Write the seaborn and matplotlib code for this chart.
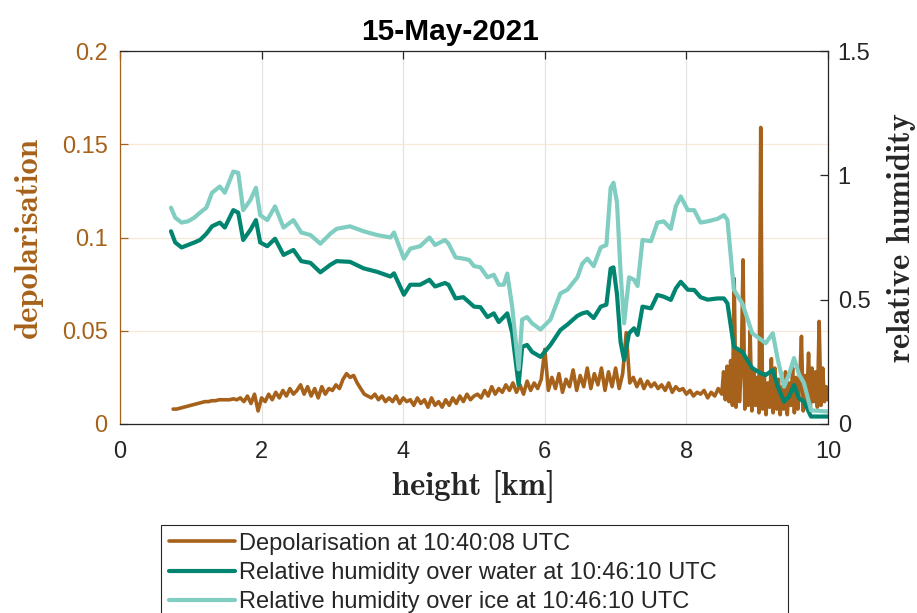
import numpy as np
import pandas as pd
import matplotlib
matplotlib.use("Agg")
import matplotlib.pyplot as plt
import seaborn as sns

# ---------------- data ----------------
# depolarisation: 0.05 km steps up to 8.45 km, then 0.025 km steps up to 10 km
depol_height = np.concatenate([
    np.round(np.arange(0.75, 8.4501, 0.05), 3),
    np.round(np.arange(8.5, 10.0001, 0.025), 3),
])
depol = [
    0.008, 0.008, 0.0085, 0.009, 0.0095, 0.010,
    0.0105, 0.011, 0.0115, 0.012, 0.012, 0.0125, 0.0125, 0.013, 0.013, 0.013,
    0.013, 0.0135, 0.013, 0.014, 0.012, 0.015, 0.011, 0.016, 0.007, 0.014,
    0.012, 0.016, 0.013, 0.017, 0.014, 0.018, 0.015, 0.019, 0.016, 0.018,
    0.021, 0.016, 0.020, 0.015, 0.019, 0.014, 0.020, 0.016, 0.019, 0.018,
    0.021, 0.019, 0.024, 0.027, 0.025, 0.026, 0.022, 0.019, 0.016, 0.015,
    0.014, 0.016, 0.013, 0.015, 0.012, 0.014, 0.012, 0.015, 0.011, 0.014,
    0.012, 0.013, 0.010, 0.014, 0.011, 0.013, 0.009, 0.014, 0.010, 0.012,
    0.009, 0.013, 0.010, 0.014, 0.011, 0.015, 0.012, 0.016, 0.013, 0.015,
    0.016, 0.014, 0.018, 0.015, 0.020, 0.016, 0.019, 0.017, 0.021, 0.018,
    0.022, 0.017, 0.021, 0.016, 0.023, 0.018, 0.022, 0.019, 0.024, 0.040,
    0.018, 0.025, 0.019, 0.027, 0.017, 0.024, 0.020, 0.029, 0.018, 0.026,
    0.020, 0.030, 0.019, 0.027, 0.021, 0.030, 0.018, 0.028, 0.020, 0.030,
    0.019, 0.027, 0.049, 0.022, 0.025, 0.020, 0.024, 0.019, 0.023, 0.020,
    0.022, 0.019, 0.021, 0.018, 0.022, 0.017, 0.020, 0.018, 0.019, 0.016,
    0.018, 0.015, 0.017, 0.016, 0.018, 0.014, 0.017, 0.015, 0.019,
    # 8.5 - 10 km (0.025 km steps)
    0.016, 0.028, 0.013, 0.031, 0.012, 0.034, 0.010, 0.078, 0.009, 0.040,
    0.012, 0.030, 0.088, 0.008, 0.035, 0.010, 0.050, 0.007, 0.028, 0.010,
    0.025, 0.006, 0.159, 0.008, 0.027, 0.005, 0.022, 0.009, 0.035, 0.006,
    0.030, 0.008, 0.024, 0.005, 0.020, 0.008, 0.028, 0.005, 0.022, 0.010,
    0.030, 0.006, 0.025, 0.008, 0.022, 0.047, 0.007, 0.026, 0.010, 0.038,
    0.008, 0.030, 0.012, 0.028, 0.009, 0.055, 0.010, 0.030, 0.012, 0.020,
    0.013,
]

rh_height = [
    0.72, 0.78, 0.87, 0.96, 1.05, 1.13, 1.22, 1.30, 1.41, 1.48, 1.60, 1.67, 1.74,
    1.84, 1.92, 1.98, 2.08, 2.19, 2.31, 2.45, 2.56, 2.69, 2.83, 2.97, 3.06, 3.25,
    3.44, 3.63, 3.82, 3.87, 4.01, 4.10, 4.24, 4.37, 4.45, 4.59, 4.64, 4.74, 4.85,
    4.93, 5.00, 5.09, 5.19, 5.28, 5.35, 5.42, 5.47, 5.54, 5.63, 5.68, 5.75, 5.82,
    5.94, 6.08, 6.22, 6.32, 6.46, 6.53, 6.60, 6.69, 6.79, 6.87, 6.93, 6.97, 7.02,
    7.07, 7.12, 7.19, 7.26, 7.31, 7.38, 7.50, 7.59, 7.68, 7.78, 7.85, 7.92, 8.02,
    8.11, 8.20, 8.30, 8.44, 8.53, 8.58, 8.67, 8.79, 8.93, 9.05, 9.12, 9.22, 9.29,
    9.38, 9.45, 9.52, 9.59, 9.66, 9.76, 10.0,
]
rh_ice = [
    0.87, 0.83, 0.81, 0.815, 0.83, 0.85, 0.87, 0.93, 0.955, 0.93, 1.015, 1.01, 0.86,
    0.90, 0.95, 0.84, 0.82, 0.875, 0.79, 0.82, 0.77, 0.76, 0.725, 0.765, 0.785, 0.795,
    0.775, 0.76, 0.75, 0.77, 0.665, 0.705, 0.715, 0.75, 0.72, 0.74, 0.725, 0.67, 0.665,
    0.66, 0.635, 0.63, 0.59, 0.60, 0.56, 0.56, 0.605, 0.47, 0.22, 0.42, 0.43, 0.405,
    0.38, 0.42, 0.525, 0.54, 0.59, 0.645, 0.665, 0.635, 0.71, 0.72, 0.95, 0.97, 0.89,
    0.61, 0.405, 0.59, 0.58, 0.555, 0.74, 0.735, 0.81, 0.815, 0.785, 0.875, 0.915, 0.86,
    0.86, 0.81, 0.815, 0.825, 0.84, 0.82, 0.54, 0.485, 0.365, 0.34, 0.325, 0.365, 0.26,
    0.15, 0.20, 0.265, 0.20, 0.165, 0.055, 0.05,
]
rh_water = [
    0.775, 0.73, 0.71, 0.72, 0.73, 0.74, 0.765, 0.795, 0.81, 0.79, 0.86, 0.85, 0.74,
    0.78, 0.82, 0.73, 0.715, 0.745, 0.68, 0.70, 0.655, 0.648, 0.61, 0.64, 0.655, 0.652,
    0.626, 0.612, 0.593, 0.606, 0.52, 0.56, 0.56, 0.58, 0.553, 0.567, 0.56, 0.505, 0.51,
    0.49, 0.472, 0.47, 0.43, 0.445, 0.41, 0.43, 0.445, 0.365, 0.157, 0.31, 0.318, 0.29,
    0.27, 0.318, 0.378, 0.40, 0.435, 0.445, 0.45, 0.426, 0.472, 0.48, 0.625, 0.63, 0.52,
    0.33, 0.257, 0.365, 0.385, 0.358, 0.472, 0.465, 0.519, 0.512, 0.499, 0.545, 0.572, 0.54,
    0.539, 0.51, 0.50, 0.505, 0.505, 0.485, 0.311, 0.29, 0.225, 0.204, 0.197, 0.217, 0.15,
    0.09, 0.11, 0.157, 0.103, 0.09, 0.03, 0.03,
]

x_ticks = [0, 2, 4, 6, 8, 10]
x_ticklabels = ["0", "2", "4", "6", "8", "10"]
depol_ticks = [0, 0.05, 0.1, 0.15, 0.2]
depol_ticklabels = ["0", "0.05", "0.1", "0.15", "0.2"]
rh_ticks = [0, 0.5, 1, 1.5]
rh_ticklabels = ["0", "0.5", "1", "1.5"]

labels = [
    "Depolarisation at 10:40:08 UTC",
    "Relative humidity over water at 10:46:10 UTC",
    "Relative humidity over ice at 10:46:10 UTC",
]

# ---------------- style ----------------
sns.set_theme(style="white")
plt.rcParams["font.family"] = ["Liberation Sans", "DejaVu Sans"]

BROWN = "#A6611A"
DARK = "#018571"
LIGHT = "#80CDC1"
INK = "#262626"

W, H = 917, 613
fig = plt.figure(figsize=(W / 100, H / 100), dpi=100)
ax = fig.add_axes([120 / W, 1 - 424 / H, 708 / W, 373 / H])
ax2 = ax.twinx()

df_d = pd.DataFrame({"h": depol_height, "v": depol})
df_r = pd.DataFrame({"h": rh_height, "w": rh_water, "i": rh_ice})

sns.lineplot(data=df_d, x="h", y="v", ax=ax, color=BROWN, lw=2.6,
             estimator=None, sort=False)
sns.lineplot(data=df_r, x="h", y="w", ax=ax2, color=DARK, lw=3.0,
             estimator=None, sort=False)
sns.lineplot(data=df_r, x="h", y="i", ax=ax2, color=LIGHT, lw=3.0,
             estimator=None, sort=False)

ax.set_xlim(0, 10)
ax.set_ylim(0, 0.2)
ax2.set_ylim(0, 1.5)
ax.set_xticks(x_ticks)
ax.set_xticklabels(x_ticklabels)
ax.set_yticks(depol_ticks)
ax.set_yticklabels(depol_ticklabels)
ax2.set_yticks(rh_ticks)
ax2.set_yticklabels(rh_ticklabels)

ax.grid(False)
ax2.grid(False)
ax.xaxis.grid(True, color="#e3e3e3", lw=0.9)
ax.yaxis.grid(True, color="#f7e8d8", lw=0.9)
ax.set_axisbelow(True)

ax.tick_params(axis="x", direction="in", length=6, width=0.9, top=True,
               colors=INK, labelsize=17, pad=12)
ax.tick_params(axis="y", direction="in", length=6, width=0.9,
               colors=BROWN, labelsize=17, pad=9)
ax2.tick_params(axis="y", direction="in", length=6, width=0.9,
                colors=INK, labelsize=17, pad=7)

for s in ["top", "bottom"]:
    ax.spines[s].set_color(INK)
    ax.spines[s].set_linewidth(0.9)
ax.spines["left"].set_color(BROWN)
ax.spines["left"].set_linewidth(0.9)
ax.spines["right"].set_visible(False)
for s in ["top", "bottom", "left"]:
    ax2.spines[s].set_visible(False)
ax2.spines["right"].set_color(INK)
ax2.spines["right"].set_linewidth(0.9)

# labels
LBL = 23.5
ax.set_xlabel("height [km]", family="cmb10", fontsize=LBL, color=INK,
              va="baseline")
ax.xaxis.set_label_coords(0.5, (424 - 495) / 373)
ax.set_ylabel("depolarisation", family="cmb10", fontsize=LBL, color=BROWN,
              va="center", rotation=90)
ax.yaxis.set_label_coords((28 - 120) / 708, 0.5)
ax2.set_ylabel("relative humidity", family="cmb10", fontsize=LBL, color=INK,
               va="center", rotation=90)
ax2.yaxis.set_label_coords((901 - 120) / 708, 0.5)

ax.set_title("15-May-2021", fontsize=21.5, fontweight="bold", color="black",
             x=(450 - 120) / 708, y=(424 - 40) / 373, pad=0, va="baseline")

handles = [ax.get_lines()[0], ax2.get_lines()[0], ax2.get_lines()[1]]
leg = fig.legend(handles, labels, loc="upper left",
                 bbox_to_anchor=(161 / W, 1 - 525 / H, 627 / W, 0.0),
                 mode="expand", ncol=1, fontsize=17, frameon=True,
                 fancybox=False, edgecolor=INK, framealpha=1,
                 borderpad=0.32, handlelength=2.8, handletextpad=0.2,
                 labelspacing=0.31, borderaxespad=0)
leg.get_frame().set_linewidth(0.8)

fig.savefig("out.png", dpi=100)
